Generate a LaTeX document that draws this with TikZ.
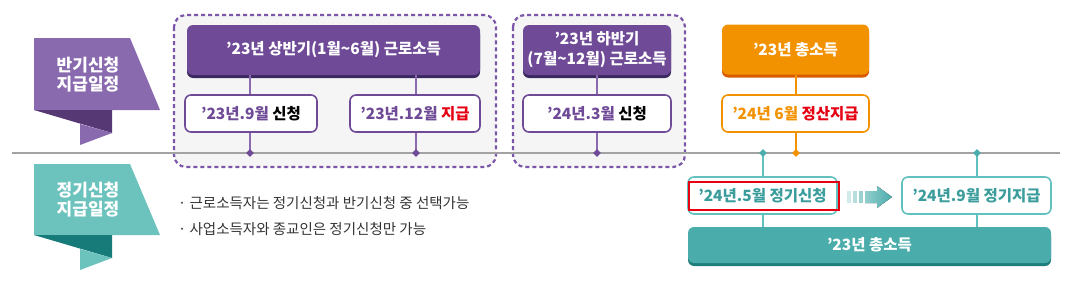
\documentclass[tikz,border=0pt]{standalone}
\usepackage{fontspec}
\setmainfont{Noto Sans CJK KR}
\usetikzlibrary{shapes.geometric,shadows,calc}

\definecolor{purplehead}{HTML}{6F4A97}
\definecolor{purpleshade}{HTML}{3B2860}
\definecolor{purpleline}{HTML}{8B6AB0}
\definecolor{purpledash}{HTML}{7A55A8}
\definecolor{purplebanner}{HTML}{8A6AAE}
\definecolor{purplefold}{HTML}{553874}
\definecolor{tealbanner}{HTML}{6CC3BD}
\definecolor{tealfold}{HTML}{167B79}
\definecolor{tealbar}{HTML}{4BACAC}
\definecolor{tealshade}{HTML}{1E7E7C}
\definecolor{tealline}{HTML}{62C0BE}
\definecolor{tealtext}{HTML}{3B9C9C}
\definecolor{orangehead}{HTML}{F39200}
\definecolor{orangeshade}{HTML}{D95B00}
\definecolor{redtext}{HTML}{E60012}
\definecolor{grayline}{HTML}{A3A3A3}
\definecolor{groupfill}{HTML}{F5F5F5}
\definecolor{bullettext}{HTML}{333333}

\tikzset{
  headbox/.style={rounded corners=6pt, text=white, font=\fontsize{15.5}{18}\selectfont\bfseries,
    align=center, inner sep=0pt},
  subbox/.style={rounded corners=6pt, fill=white, line width=1.6pt, minimum height=37pt,
    inner sep=0pt, font=\fontsize{15.5}{18}\selectfont},
  groupbox/.style={draw=purpledash, fill=groupfill, line width=2.2pt, dash pattern=on 4pt off 3pt,
    rounded corners=12pt},
  tick/.style={diamond, inner sep=0pt, minimum size=8pt},
  banner/.style={text=white, font=\fontsize{17}{22}\selectfont\bfseries, align=center},
  bullet/.style={anchor=west, text=bullettext, font=\fontsize{14.5}{16}\selectfont, inner sep=0pt}
}

\begin{document}
\begin{tikzpicture}[x=1pt, y=-1pt]
\useasboundingbox (0,0) rectangle (1082,289);

% banners
\fill[purplebanner] (34,38) -- (130,38) -- (160,110) -- (34,110) -- cycle;
\fill[purplefold] (34,110) -- (112,110) -- (112,133) -- cycle;
\fill[purplebanner] (80,124) -- (112,133) -- (80,145) -- cycle;
\node[banner] (bannerhalf) at (88,75) {반기신청\\[-3pt]지급일정};

\fill[tealbanner] (34,164) -- (130,164) -- (160,235) -- (34,235) -- cycle;
\fill[tealfold] (34,235) -- (112,235) -- (112,258) -- cycle;
\fill[tealbanner] (80,249) -- (112,258) -- (80,270) -- cycle;
\node[banner] (bannerreg) at (88,200) {정기신청\\[-3pt]지급일정};

% groups and timeline
\draw[groupbox] (174,15) rectangle (496,167);
\draw[groupbox] (513,15) rectangle (685,167);
\draw[grayline, line width=2.6pt] (12,153) -- (1060,153);

\coordinate (t1) at (250,153);
\coordinate (t2) at (416,153);
\coordinate (t3) at (597,153);
\coordinate (t4) at (796,153);
\coordinate (t5) at (763,153);
\coordinate (t6) at (977,153);

% half-year headers
\node[headbox, fill=purplehead, minimum width=293pt, minimum height=50pt,
  drop shadow={shadow xshift=0pt, shadow yshift=-3pt, fill=purpleshade, opacity=1}]
  (firsthalf) at (333.5,50) {’23년 상반기(1월\textasciitilde6월) 근로소득};
\node[headbox, fill=purplehead, minimum width=148pt, minimum height=50pt,
  drop shadow={shadow xshift=0pt, shadow yshift=-3pt, fill=purpleshade, opacity=1}]
  (secondhalf) at (597,50) {’23년 하반기\\[2pt](7월\textasciitilde12월) 근로소득};
\node[headbox, fill=orangehead, minimum width=147pt, minimum height=50pt,
  drop shadow={shadow xshift=0pt, shadow yshift=-3pt, fill=orangeshade, opacity=1}]
  (totalyear) at (795.5,49.5) {’23년 총소득};

% connectors
\draw[purpleline, line width=1.2pt] (firsthalf.south -| t1) -- (t1);
\draw[purpleline, line width=1.2pt] (firsthalf.south -| t2) -- (t2);
\draw[purpleline, line width=1.2pt] (secondhalf.south -| t3) -- (t3);
\draw[orangehead, line width=1.2pt] (totalyear.south -| t4) -- (t4);

\node[subbox, draw=purplehead, minimum width=132pt] (apply1) at (251,113.5)
  {\bfseries\textcolor{purplehead}{’23년.9월} 신청};
\node[subbox, draw=purplehead, minimum width=130pt] (pay1) at (415,113.5)
  {\bfseries\textcolor{purplehead}{’23년.12월} \textcolor{redtext}{지급}};
\node[subbox, draw=purplehead, minimum width=148pt] (apply2) at (597,113.5)
  {\bfseries\textcolor{purplehead}{’24년.3월} 신청};
\node[subbox, draw=orangehead, minimum width=147pt] (settle) at (795.5,113.5)
  {\bfseries\textcolor{orangehead}{’24년 6월} \textcolor{redtext}{정산지급}};

% regular schedule
\node[headbox, fill=tealbar, minimum width=363pt, minimum height=36pt,
  drop shadow={shadow xshift=0pt, shadow yshift=-3pt, fill=tealshade, opacity=1}]
  (totalreg) at (869.5,245) {’23년 총소득};
\draw[tealline, line width=1.2pt] (t5) -- (t5 |- totalreg.north);
\draw[tealline, line width=1.2pt] (t6) -- (t6 |- totalreg.north);

\node[subbox, draw=tealline, minimum width=149pt, text=tealtext] (applyreg) at (762.5,195.5)
  {\bfseries ’24년.5월 정기신청};
\node[subbox, draw=tealline, minimum width=149pt, text=tealtext] (payreg) at (976.5,195.5)
  {\bfseries ’24년.9월 정기지급};
\draw[redtext, line width=2.4pt] (689,182) rectangle (839,210);

% arrow
\foreach \x/\c in {847/25,853/40,859/55}
  \fill[tealbar!\c] (\x,191) rectangle ++(4,12);
\fill[left color=tealbar!60, right color=tealbar] (865,191) -- (877,191) -- (877,186)
  -- (892,197) -- (877,208) -- (877,203) -- (865,203) -- cycle;

% ticks
\foreach \t in {t1,t2,t3}
  \node[tick, fill=purplehead] at (\t) {};
\node[tick, fill=orangehead] at (t4) {};
\foreach \t in {t5,t6}
  \node[tick, fill=tealbar] at (\t) {};

% notes
\node[bullet] (note1) at (178,203) {·\ 근로소득자는 정기신청과 반기신청 중 선택가능};
\node[bullet] (note2) at (178,229) {·\ 사업소득자와 종교인은 정기신청만 가능};
\end{tikzpicture}
\end{document}
